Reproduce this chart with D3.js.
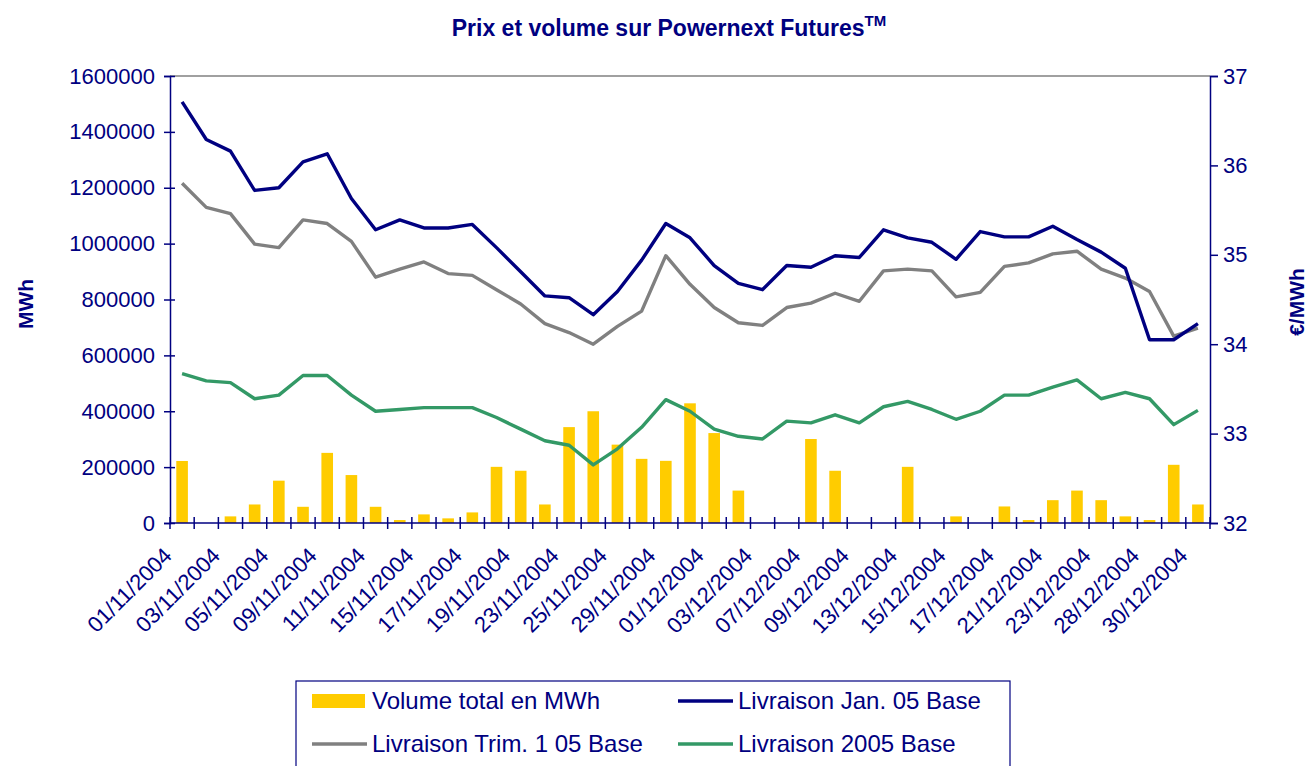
<!DOCTYPE html>
<html>
<head>
<meta charset="utf-8">
<script src="https://cdn.jsdelivr.net/npm/d3@7"></script>
<style>
body { margin: 0; background: #fff; }
text { font-family: Arial, "Liberation Sans", sans-serif; }
</style>
</head>
<body>
<svg id="chart"></svg>
<script>
// trading days, Nov-Dec 2004
var dates = ["01/11/2004", "02/11/2004", "03/11/2004", "04/11/2004", "05/11/2004", "08/11/2004", "09/11/2004",
    "10/11/2004", "11/11/2004", "12/11/2004", "15/11/2004", "16/11/2004", "17/11/2004", "18/11/2004",
    "19/11/2004", "22/11/2004", "23/11/2004", "24/11/2004", "25/11/2004", "26/11/2004", "29/11/2004",
    "30/11/2004", "01/12/2004", "02/12/2004", "03/12/2004", "06/12/2004", "07/12/2004", "08/12/2004",
    "09/12/2004", "10/12/2004", "13/12/2004", "14/12/2004", "15/12/2004", "16/12/2004", "17/12/2004",
    "20/12/2004", "21/12/2004", "22/12/2004", "23/12/2004", "24/12/2004", "28/12/2004", "29/12/2004",
    "30/12/2004"];

var volume = [222000, 0, 23700, 66300, 151500, 58000, 251000, 171600, 58000, 10600, 30800, 16600, 37900,
    201000, 187000, 66300, 343200, 400000, 280500, 229600, 222500, 428400, 321900, 116000, 0, 0,
    300600, 187000, 0, 0, 201000, 0, 23700, 0, 59200, 10600, 81700, 116000, 81700, 23700, 10600,
    208300, 66300];

var janBase = [36.71, 36.29, 36.16, 35.72, 35.75, 36.04, 36.13, 35.63, 35.28, 35.39, 35.30, 35.30, 35.34,
    35.08, 34.81, 34.54, 34.52, 34.33, 34.59, 34.94, 35.35, 35.19, 34.88, 34.68, 34.61, 34.88, 34.86,
    34.99, 34.97, 35.28, 35.19, 35.14, 34.95, 35.26, 35.20, 35.20, 35.32, 35.17, 35.03, 34.85, 34.05,
    34.05, 34.23];

var trimBase = [35.80, 35.53, 35.46, 35.12, 35.08, 35.39, 35.35, 35.15, 34.75, 34.84, 34.92, 34.79, 34.77,
    34.61, 34.45, 34.23, 34.13, 34.00, 34.20, 34.37, 34.99, 34.67, 34.41, 34.24, 34.21, 34.41, 34.46,
    34.57, 34.48, 34.82, 34.84, 34.82, 34.53, 34.58, 34.87, 34.91, 35.01, 35.04, 34.84, 34.74, 34.59,
    34.09, 34.18];

var yearBase = [33.67, 33.59, 33.57, 33.39, 33.43, 33.65, 33.65, 33.43, 33.25, 33.27, 33.29, 33.29, 33.29,
    33.18, 33.05, 32.92, 32.87, 32.65, 32.83, 33.07, 33.38, 33.25, 33.05, 32.97, 32.94, 33.14, 33.12,
    33.21, 33.12, 33.30, 33.36, 33.27, 33.16, 33.25, 33.43, 33.43, 33.52, 33.60, 33.39, 33.46, 33.39,
    33.10, 33.26];

var volTicks = [0, 200000, 400000, 600000, 800000, 1000000, 1200000, 1400000, 1600000];
var priceTicks = [32, 33, 34, 35, 36, 37];

var seriesNames = ["Volume total en MWh", "Livraison Jan. 05 Base", "Livraison Trim. 1 05 Base", "Livraison 2005 Base"];

var navy = "#000080";

var totalWidth = 1310;
var totalHeight = 766;
var margin = { top: 76, right: 100, bottom: 243, left: 170 };
var width = totalWidth - margin.left - margin.right;
var height = totalHeight - margin.top - margin.bottom;

var svg = d3.select("#chart")
    .attr("width", totalWidth)
    .attr("height", totalHeight);

var x = d3.scaleBand().domain(dates).range([0, width]).padding(0);
var yVol = d3.scaleLinear().domain([0, 1600000]).range([height, 0]);
var yPrice = d3.scaleLinear().domain([32, 37]).range([height, 0]);

var g = svg.append("g")
    .attr("transform", "translate(" + margin.left + "," + margin.top + ")");

// title
var title = svg.append("text")
    .attr("x", 669)
    .attr("y", 36)
    .attr("text-anchor", "middle")
    .attr("fill", navy)
    .attr("font-size", 23)
    .attr("font-weight", "bold");
title.append("tspan").text("Prix et volume sur Powernext Futures");
title.append("tspan").attr("dy", -10).attr("font-size", 15).text("TM");

// top border of plot area
g.append("line")
    .attr("x1", 0).attr("x2", width)
    .attr("y1", 0).attr("y2", 0)
    .attr("stroke", "#808080")
    .attr("stroke-width", 1.5);

// bars
var barW = x.bandwidth() * 0.48;
g.selectAll(".bar")
    .data(dates)
    .enter()
    .append("rect")
    .attr("class", "bar")
    .attr("x", function (d) { return x(d) + (x.bandwidth() - barW) / 2; })
    .attr("y", function (d, i) { return yVol(volume[i]); })
    .attr("width", barW)
    .attr("height", function (d, i) { return height - yVol(volume[i]); })
    .attr("fill", "#FFCC00");

// lines
var line = d3.line()
    .x(function (d, i) { return x(dates[i]) + x.bandwidth() / 2; })
    .y(function (d) { return yPrice(d); });

var lineSeries = [
    { values: yearBase, color: "#339966" },
    { values: trimBase, color: "#808080" },
    { values: janBase, color: navy }
];

lineSeries.forEach(function (s) {
    g.append("path")
        .datum(s.values)
        .attr("d", line)
        .attr("fill", "none")
        .attr("stroke", s.color)
        .attr("stroke-width", 3.4)
        .attr("stroke-linejoin", "round");
});

// left axis
var yAxisL = g.append("g")
    .call(d3.axisLeft(yVol).tickValues(volTicks).tickSize(6).tickPadding(9).tickFormat(d3.format("d")));
yAxisL.selectAll("line").attr("x2", -6).attr("x1", 5);
yAxisL.selectAll("text").attr("font-size", 22).attr("fill", navy).attr("font-family", "Arial, 'Liberation Sans', sans-serif");
yAxisL.select(".domain").attr("stroke", navy).attr("stroke-width", 1.5);
yAxisL.selectAll("line").attr("stroke", navy).attr("stroke-width", 1.5);

// right axis
var yAxisR = g.append("g")
    .attr("transform", "translate(" + width + ",0)")
    .call(d3.axisRight(yPrice).tickValues(priceTicks).tickSize(8).tickPadding(5).tickFormat(d3.format("d")));
yAxisR.selectAll("text").attr("font-size", 22).attr("fill", navy).attr("font-family", "Arial, 'Liberation Sans', sans-serif");
yAxisR.select(".domain").attr("stroke", navy).attr("stroke-width", 1.5);
yAxisR.selectAll("line").attr("stroke", navy).attr("stroke-width", 1.5);

// x axis: baseline, ticks at category bounds, labels every other day
var xAxis = g.append("g").attr("transform", "translate(0," + height + ")");
xAxis.append("line")
    .attr("x1", 0).attr("x2", width)
    .attr("stroke", navy).attr("stroke-width", 1.5);
xAxis.selectAll(".xtick")
    .data(dates.concat(["end"]))
    .enter()
    .append("line")
    .attr("class", "xtick")
    .attr("x1", function (d) { return d == "end" ? width : x(d); })
    .attr("x2", function (d) { return d == "end" ? width : x(d); })
    .attr("y1", -6).attr("y2", 6)
    .attr("stroke", navy).attr("stroke-width", 1.5);
xAxis.selectAll(".xlabel")
    .data(dates.filter(function (d, i) { return i % 2 == 0; }))
    .enter()
    .append("text")
    .attr("class", "xlabel")
    .attr("text-anchor", "end")
    .attr("font-size", 22)
    .attr("fill", navy)
    .attr("transform", function (d) {
        return "translate(" + (x(d) + x.bandwidth() / 2 - 9) + ",34) rotate(-45)";
    })
    .text(function (d) { return d; });

// axis titles
svg.append("text")
    .attr("transform", "translate(33,304) rotate(-90)")
    .attr("text-anchor", "middle")
    .attr("font-size", 21).attr("font-weight", "bold").attr("fill", navy)
    .text("MWh");
svg.append("text")
    .attr("transform", "translate(1304,302) rotate(-90)")
    .attr("text-anchor", "middle")
    .attr("font-size", 21).attr("font-weight", "bold").attr("fill", navy)
    .text("€/MWh");

// legend
var legend = svg.append("g").attr("transform", "translate(296,681)");
legend.append("rect")
    .attr("width", 714).attr("height", 100)
    .attr("fill", "#fff").attr("stroke", navy).attr("stroke-width", 1.2);

var legendItems = [
    { name: seriesNames[0], type: "bar", color: "#FFCC00", col: 0, row: 0 },
    { name: seriesNames[1], type: "line", color: navy, col: 1, row: 0 },
    { name: seriesNames[2], type: "line", color: "#808080", col: 0, row: 1 },
    { name: seriesNames[3], type: "line", color: "#339966", col: 1, row: 1 }
];

var li = legend.selectAll(".litem")
    .data(legendItems)
    .enter()
    .append("g")
    .attr("class", "litem")
    .attr("transform", function (d) { return "translate(" + (16 + d.col * 366) + "," + (20 + d.row * 43) + ")"; });

li.filter(function (d) { return d.type == "bar"; })
    .append("rect")
    .attr("x", 0).attr("y", -7).attr("width", 53).attr("height", 14)
    .attr("fill", function (d) { return d.color; });
li.filter(function (d) { return d.type == "line"; })
    .append("line")
    .attr("x1", 0).attr("x2", 55).attr("y1", 0).attr("y2", 0)
    .attr("stroke", function (d) { return d.color; })
    .attr("stroke-width", 3.4);
li.append("text")
    .attr("x", 60).attr("y", 8)
    .attr("font-size", 24).attr("fill", navy)
    .text(function (d) { return d.name; });
</script>
</body>
</html>
